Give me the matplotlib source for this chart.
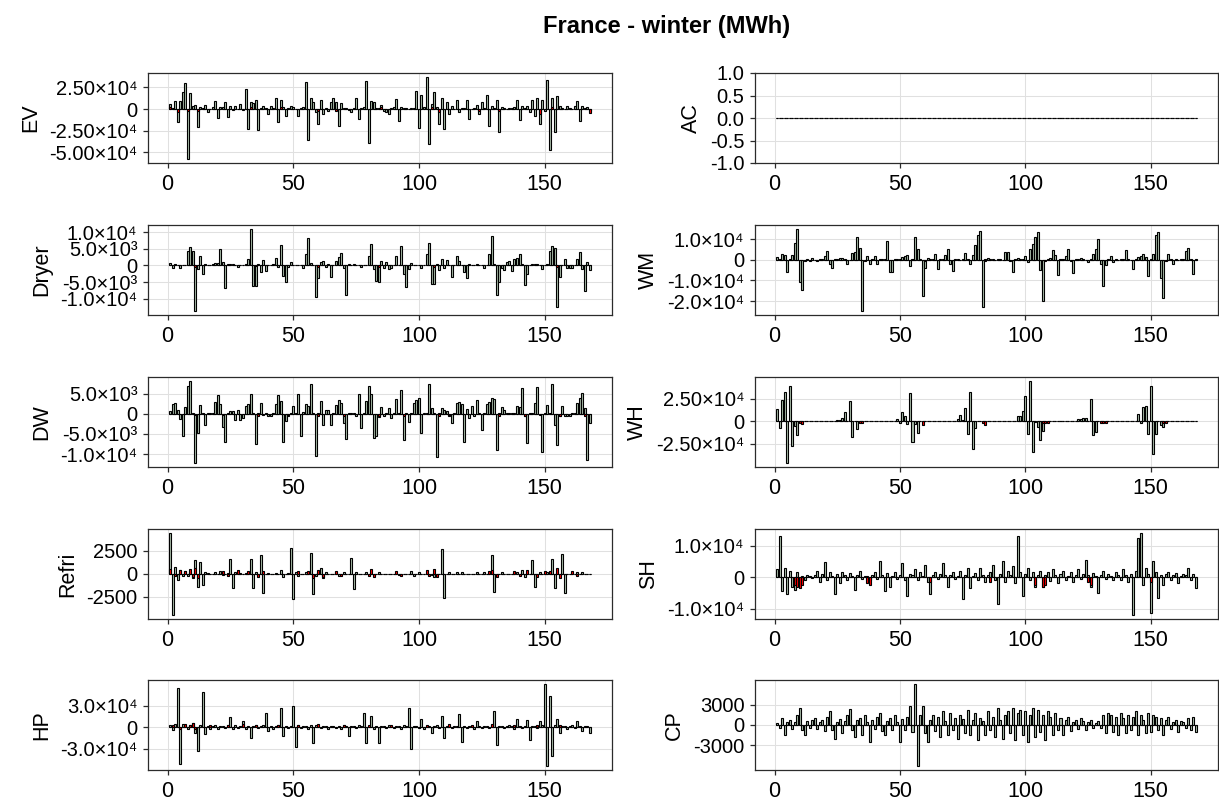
import matplotlib.pyplot as plt
import numpy as np

plt.rcParams['font.family'] = ['Liberation Sans', 'DejaVu Sans']

hours = np.arange(1, 169)

# hourly differences per appliance (MWh), green series
ev = [5800, 1500, 8800, -15400, 8800, 20000, 29600, -57700, 18500, 3800, 4600, -21000,
      2000, 800, 4200, -3800, 600, 2000, 9200, -10400, 2700, 2700, 7700, -9600,
      3000, -1500, 3000, 500, 5800, -1500, 23100, -23100, 7700, 6500, 10800, -24200,
      1500, 3000, 1000, -5800, 3000, 800, 12300, -14600, 10800, 2000, -7700, 1500,
      3000, 2000, 600, -7700, 1000, 2500, 31600, -35400, 12700, 7700, -3000, -17300,
      10800, -5800, 1500, -2500, 8000, 12300, 8500, -20000, 6500, 800, 1000, -1500,
      -3000, 700, 12300, -11500, 1000, 2500, 32700, -39300, 9600, 8500, 1500, 1500,
      5000, -2000, -3000, -5800, 1000, 2500, 11500, -13500, 2000, 1500, 1500, 500,
      1000, 1500, 20400, -22300, 16200, 2000, 37000, -40800, 6000, 20000, 2000, -17300,
      12300, -23100, 7700, -5800, 3000, 600, 10800, -3000, 1500, 1500, 10800, -11500,
      500, 1500, 5000, -5800, 7700, 1500, 16200, -20000, 3000, 1500, 10800, -26200,
      2000, 1000, 500, 700, 1000, 2500, 10800, -12300, 3000, 1000, 3000, -3000,
      10800, -8500, 12300, -17300, 10800, -2000, 33500, -47000, 12300, -27000, 14600, 3000,
      1000, 500, 3000, 1000, 600, 3000, 9600, -13500, 3000, 1000, 2500, -2500]

ac = [0] * 168

dryer = [700, -700, 300, 100, -700, 200, 100, 4400, 5500, 4200, -13600, -1200,
         2800, -2400, 300, 200, 100, 300, 600, 800, 4800, 1100, -6800, 400,
         500, 300, 200, -500, 100, 200, 300, 2000, 10900, -6000, -6000, 300,
         -1900, 1600, -1700, 200, 100, 300, 2300, -400, 6200, -3100, -4800, -500,
         900, 200, 100, 100, 200, -900, 3300, 8200, 700, 200, -9400, -3800,
         1100, 1200, -600, 300, -3300, 200, 1300, 2500, 3800, -800, -8700, 400,
         200, 300, 100, 200, -600, 100, 200, 2800, 6500, -1200, -4600, -5000,
         1300, -700, 900, -1100, -700, 200, 2800, 200, 5800, -2400, -6400, -1200,
         600, 200, 100, 100, -700, 200, 3300, 6800, -5400, -5400, 300, -1400,
         1900, -800, 1500, 200, -3300, 200, 2800, 1300, 200, -1900, -3800, 300,
         200, 100, 300, 100, 200, -700, 200, 3300, 8900, 500, -8700, -4800,
         -800, -1400, 900, 1300, -1700, 2000, 2300, 3500, 500, -5800, -2600, 200,
         300, 400, 500, 200, -1200, 100, 300, 4200, 5800, 5200, -12400, -3400,
         200, 1900, -900, -900, -700, 100, 1900, 4000, -1100, -7500, 900, -1400]

wm = [1600, 300, 2700, 2100, -6000, 200, 2200, 8300, 14900, -10800, -14800, -500,
      600, -400, 1100, -300, -600, 200, 300, 1900, 4100, -2200, -4100, 200,
      300, 1000, 1000, 200, -2200, -300, 3500, 3800, 11000, 5900, -24800, -200,
      1900, -2100, 200, 1900, -1900, 200, 300, 200, 8900, -5700, -5700, 200,
      300, 500, 1400, 1900, 2200, -3000, 300, 11300, 5400, 400, -17800, -3800,
      700, 300, 200, 2700, -4600, 200, 300, 2200, 5400, -2200, -5200, 200,
      300, 100, 200, 3500, 300, -2100, 2200, 7000, 11800, 14200, -22900, 200,
      1100, 300, 200, 100, 200, 300, 100, 3800, 3800, -800, -5700, 200,
      1100, 200, 300, 1700, -1300, 5100, 7500, 11000, 13700, -4900, -20200, -300,
      200, 1100, 4600, 2200, -7600, 200, 300, 1700, 5100, -600, -6500, 200,
      300, 1100, 200, 100, -1000, 200, 3000, 5400, 10200, -2200, -12900, -2500,
      200, 1700, -1300, 200, 100, 200, 300, 4600, 200, 100, -4500, 200,
      1400, 1900, 3000, 1400, -8100, 200, 3000, 11800, 13400, -8600, -18600, -300,
      2700, 200, -2100, 200, 100, 200, 300, 4100, 5700, 200, -7000, 200]

dw = [700, 2300, 2700, 1000, -1300, -5500, 1600, 7000, 8100, 300, -12200, -4900,
      2200, 300, -2700, 200, 100, 300, 3000, 4600, 2300, -3300, -6900, 200,
      600, 600, -1500, 1000, -1500, -1100, 2000, 2300, 4800, 300, -7500, 200,
      2700, -400, 200, -600, -600, 200, 2500, 4600, 3100, -6900, -1900, -500,
      200, 2000, 300, 4800, -5500, 400, 2300, 1800, 7400, 300, -10600, 200,
      3100, -2700, 1000, 1000, -2800, 200, 2200, 3400, 2700, -2300, -6300, 200,
      200, 100, -600, 5000, -3600, 200, 3100, 6900, 5000, -6000, -5500, -700,
      1600, -600, 200, 1400, -1100, 200, 3600, 300, 6000, -6500, 200, -2000,
      100, 2700, 3400, 4000, -4900, 200, 300, 7400, 1400, 300, -10700, 300,
      1500, 1000, 700, -600, -2400, 200, 2600, 3000, 2300, -7100, 1100, -1100,
      2000, -500, 3400, 200, -4100, 200, 2300, 2800, 3900, 3600, -9100, 200,
      1600, 1000, 200, 300, 300, 200, 1800, 1600, 6400, -500, -7300, 300,
      200, 2600, 6600, -400, -9500, 200, 2200, 300, 7500, -2700, -7700, -500,
      2000, -600, -600, -600, 200, 100, 2700, 3800, 5200, 1400, -11400, -2300]

wh = [13800, -8000, 23500, 31900, -46300, 39500, -27900, -5400, -15200, -400, -400, 0,
      100, 0, 0, 0, 0, 100, 0, 0, 0, 0, 200, 300,
      1400, 1800, 3600, 9800, 500, 22800, -18100, 400, -9000, -300, -300, 0,
      0, 0, 100, 0, 0, 0, 0, 0, 0, 100, 200, 300,
      2900, -1800, 9800, 6200, -2900, 30800, -23500, -3600, -12700, 200, -200, 0,
      0, 0, 0, 100, 0, 0, 0, 0, 0, 0, 100, 200,
      2900, 6900, 1100, 14500, -13800, 32600, -30800, -7200, 100, 0, -200, -300,
      0, 0, 0, 0, 100, 0, 0, 0, 0, 0, 100, 300,
      5400, 5400, 11600, 28200, -13800, 44500, -33700, -500, -6500, -21000, -10900, -300,
      0, 0, 100, 0, 0, 0, 0, 0, 0, 100, 0, 200,
      2900, 2900, 3600, 3600, 300, 24300, -15600, -11600, 200, -300, 0, 0,
      0, 0, 0, 100, 0, 0, 0, 0, 0, 0, 100, 300,
      8000, -1800, 16300, 17400, -14500, 39100, -36900, -14500, -200, -4300, -6200, -300,
      0, 0, 100, 0, 0, 0, 0, 0, 0, 0, 0, 0]

refri = [4400, -4500, 700, -700, 400, -300, 300, -300, 200, -500, 1500, -1500,
         1300, -1300, 200, 100, 0, 0, 200, 0, 300, -200, 0, 100,
         1600, -1600, 200, 0, 100, 0, 100, 0, 1600, -1600, 200, 0,
         2000, -2100, 0, 100, 0, 0, 100, 0, 400, -400, 0, 100,
         2800, -2800, 200, -300, 0, 0, 200, 0, 2200, -2200, -300, 200,
         600, -500, 200, 0, 0, 0, 200, -300, 0, 200, 0, 0,
         1700, -1700, 200, 0, 0, 0, 200, 0, 0, -200, 0, 200,
         0, 0, 0, 0, 0, 0, 0, -200, 0, 0, 0, 0,
         300, -300, 0, 200, 0, 0, 0, 0, -200, -400, 0, 0,
         2700, -2700, 0, 200, 0, 0, 200, 0, 200, 0, 0, 0,
         0, 0, 200, 0, 0, 200, 0, 0, 2000, -2000, 0, 0,
         200, 0, 0, 0, 0, 0, 200, 0, 400, -400, 0, 0,
         1500, -1500, 0, 200, 0, 0, 200, 0, 1600, -1600, 200, 0,
         2100, -2100, 0, 0, 0, 0, 200, 0, 200, 0, 0, 0]

sh = [2500, 13000, -4500, 3000, -5500, 2000, -3000, -4000, 1500, -2500, 500, -800,
      600, 300, -300, 800, 2000, -1500, 1000, 4900, -1000, 1500, 500, -5500,
      1000, -2000, 1500, 600, -800, 1200, 400, -4000, 800, 2000, -600, 500,
      300, -1000, 600, 1500, -500, 5000, 800, -4500, 1200, -3000, 500, 1500,
      -600, 800, 4500, -1000, -6000, 1000, 600, 2500, -800, 1500, 500, 4000,
      -1500, -5500, 800, 1500, -500, 1000, 4500, 600, -3000, 800, 1500, -600,
      500, 2000, -7000, 800, 3000, -3500, 500, 1200, -800, 3000, 600, -1500,
      800, 1500, 4000, -800, -8500, 1000, 5000, -1500, 2000, 800, 3500, -2000,
      13000, 1500, -6000, 1000, 3000, -800, 1500, -3000, 600, 2000, -3000, 800,
      1500, -1200, 2500, 600, -2000, 1000, 2000, -800, 500, 1500, -1500, 800,
      2500, -600, 1000, 5500, 600, -3000, 1200, 500, -5000, 800, 2000, -600,
      1000, 500, -800, 1500, 600, -1000, 2500, 800, -1500, 1000, -12000, 2000,
      12500, 14000, -2500, 3000, 1000, -11500, 5000, 1500, -6500, 800, -2500, 1000,
      1500, -800, 600, 1200, -2000, 500, 1000, 800, 3000, -800, 1000, -3500]

hp = [3000, -4000, 5000, 54000, -51000, 4000, 3000, -3000, 2500, 6000, -8000, -33000,
      3000, 49000, -10000, 2000, -2000, 1000, 2500, -3000, 2000, 1000, -1500, 3000,
      14000, -2000, 2500, -1500, 1500, 8000, -3000, 2000, -15000, 1500, 2500, -1500,
      1000, 3500, 20000, -5000, 2000, -2000, 1500, 2500, 26000, -12000, 1500, -1500,
      2000, 30000, -28000, 3000, -1500, 2000, 1000, -2000, 2500, -22000, 3000, 1500,
      -1500, 2000, 1000, -2500, 1500, 2000, -1000, 1500, -2000, 3000, 1000, -13000,
      2000, 1500, -1500, 2500, 1000, 20000, -22000, 2000, 15000, -3000, 1500, -22000,
      2000, 1000, -1500, 2500, 1500, -1000, 2000, 1000, -2000, 3000, 1500, 26000,
      -30000, 2000, 1500, -1500, 12000, -3000, 2000, 1000, -8000, 1500, 2500, -1500,
      15000, -15000, 2000, 1000, -1500, 2000, 1000, 18000, -20000, 1500, -1000, 2000,
      1500, -2000, 8000, 1000, -1500, 2000, 1500, -1000, 2500, 22000, -25000, 1500,
      2000, -1500, 1000, 2500, 1500, -2000, 12000, 2000, -1500, 1500, 10000, -18000,
      2000, 1000, -1500, 8000, 2500, 60000, -54000, 44000, -40000, 3000, 12000, -8000,
      2000, 1000, -2000, 1500, 3000, -1500, 8000, 2000, -5000, 1500, 2000, -8000]

cp = [300, -500, 1000, -1500, 400, 800, -600, 500, 1500, 2500, -800, -1500,
      600, -400, 800, 1000, -600, 400, 700, -900, 1200, 2000, -700, -2000,
      500, 900, -1200, 600, 1500, 2300, -800, -1800, 700, 1000, -1500, 1500,
      500, -2500, 800, -600, 1200, 1800, -900, -1500, 600, 1000, -700, 1500,
      400, -2500, 900, -800, 1200, 2800, -1000, 6000, -6000, 1500, 2800, -1200,
      -2500, 800, 1500, -900, 1200, -1800, 2000, 600, -1500, 1800, -700, 1000,
      -2000, 1500, 900, -1200, 2200, -1500, 700, 1800, -2200, 1000, 600, -1500,
      2000, -800, 1200, -1800, 2500, 800, -2000, 1500, 2000, -1200, 2500, -2200,
      1800, 2200, -1500, 2000, -2500, 1500, 2500, -1800, 2200, -1000, 1500, -2200,
      2000, 1200, -1500, 1800, -800, 1000, -1500, 700, 1200, -900, 500, 800,
      -600, 1000, 600, -800, 400, 700, -500, 300, 600, -400, 1500, -1200,
      1800, 1500, -1000, 1200, -1500, 1800, 1000, -1200, 1500, -800, 1200, 2000,
      -1500, 1500, 800, -1200, 1800, -1000, 1500, 1200, -800, 1000, -1500, 800,
      1200, -600, 500, 800, -1000, 600, 400, -500, 1000, -800, 1200, -1000]

# second (red) series, only the non-zero hours
ev_red = {1: 2500, 4: -3800, 8: -2000, 12: -2500, 33: 2000, 45: 2500, 60: -2500, 67: -2500,
          85: 2000, 105: 2500, 108: -3500, 124: -2000, 132: -2500, 148: -5800, 153: 2000, 168: -5000}
dryer_red = {11: -500, 35: -300, 60: -500, 84: -400, 106: -500, 155: -500}
wm_red = {36: -500, 60: -500, 84: -400, 108: -500, 156: -500}
dw_red = {11: -400, 22: -400, 36: -500, 48: -400, 60: -500, 70: -500, 84: -600, 94: -500,
          108: -600, 112: -400, 132: -500, 142: -500, 156: -600, 166: -500}
wh_red = {10: -2500, 11: -3500, 34: -2000, 35: -1500, 59: -4000, 83: -2500, 84: -4500,
          107: -2000, 108: -2500, 109: -2000, 130: -2000, 131: -2500, 132: -2500, 155: -1500, 156: -2000}
refri_red = {1: 500, 3: -300, 5: 400, 7: 300, 9: 500, 10: -400, 11: 600, 12: -500, 22: 300, 24: -300,
             28: 400, 32: 300, 36: -400, 38: 300, 52: 300, 56: 300, 58: -500, 60: 400, 62: -400,
             67: 300, 69: -300, 80: -300, 81: 500, 82: -400, 91: 300, 93: -300, 103: 400, 104: -300,
             106: 500, 107: -400, 128: 300, 129: 400, 131: -400, 138: 300, 140: -300, 143: 400,
             147: -400, 150: 300, 152: 300, 155: 600, 156: -500, 161: 300, 163: -300}
sh_red = {8: -2500, 9: -3000, 10: -3500, 11: -2500, 37: -2000, 38: -2500, 62: -1500, 86: -1500,
          104: -2500, 107: -3000, 108: -2500, 125: -1500, 126: -2500, 150: -1500}
hp_red = {2: 3000, 5: -3000, 7: 4000, 9: 3500, 10: 6000, 11: -3000, 17: 3000, 24: 2500, 30: 4000,
          35: 3000, 44: 3000, 52: 3500, 60: 4000, 70: 3000, 80: 3000, 89: 3500, 103: 3000,
          112: 4000, 121: 3000, 129: 4000, 138: 3000, 147: 3500, 156: 3000}

# y ticks and their labels
ev_ticks = [-5e4, -2.5e4, 0, 2.5e4]
ev_labels = ['-5.00×10⁴', '-2.50×10⁴', '0', '2.50×10⁴']
ac_ticks = [-1.0, -0.5, 0.0, 0.5, 1.0]
ac_labels = ['-1.0', '-0.5', '0.0', '0.5', '1.0']
dryer_ticks = [-1e4, -5e3, 0, 5e3, 1e4]
dryer_labels = ['-1.0×10⁴', '-5.0×10³', '0', '5.0×10³', '1.0×10⁴']
wm_ticks = [-2e4, -1e4, 0, 1e4]
wm_labels = ['-2.0×10⁴', '-1.0×10⁴', '0', '1.0×10⁴']
dw_ticks = [-1e4, -5e3, 0, 5e3]
dw_labels = ['-1.0×10⁴', '-5.0×10³', '0', '5.0×10³']
wh_ticks = [-2.5e4, 0, 2.5e4]
wh_labels = ['-2.50×10⁴', '0', '2.50×10⁴']
refri_ticks = [-2500, 0, 2500]
refri_labels = ['-2500', '0', '2500']
sh_ticks = [-1e4, 0, 1e4]
sh_labels = ['-1.0×10⁴', '0', '1.0×10⁴']
hp_ticks = [-3e4, 0, 3e4]
hp_labels = ['-3.0×10⁴', '0', '3.0×10⁴']
cp_ticks = [-3000, 0, 3000]
cp_labels = ['-3000', '0', '3000']


def expand(sparse):
    vals = np.zeros(len(hours))
    for h, v in sparse.items():
        vals[h - 1] = v
    return vals


panels = [
    ('EV', ev, ev_red, ev_ticks, ev_labels, 0, 0),
    ('AC', ac, {}, ac_ticks, ac_labels, 1, 0),
    ('Dryer', dryer, dryer_red, dryer_ticks, dryer_labels, 0, 1),
    ('WM', wm, wm_red, wm_ticks, wm_labels, 1, 1),
    ('DW', dw, dw_red, dw_ticks, dw_labels, 0, 2),
    ('WH', wh, wh_red, wh_ticks, wh_labels, 1, 2),
    ('Refri', refri, refri_red, refri_ticks, refri_labels, 0, 3),
    ('SH', sh, sh_red, sh_ticks, sh_labels, 1, 3),
    ('HP', hp, hp_red, hp_ticks, hp_labels, 0, 4),
    ('CP', cp, {}, cp_ticks, cp_labels, 1, 4),
]

W, H = 1219, 807
col_left = [148, 755]
col_width = [464, 463]
row_top = [73, 225, 377, 529, 680]
ax_h = 90

GREEN = '#abbfab'
SPINE = '#2b2b2b'

fig = plt.figure(figsize=(W / 100, H / 100), dpi=100)
fig.text(667 / W, 1 - 27 / H, 'France - winter (MWh)', ha='center', va='center',
         fontsize=17, fontweight='bold')

for name, green, red, ticks, labels, col, row in panels:
    g = np.asarray(green, dtype=float)
    assert len(g) == 168, name
    r = expand(red)
    ax = fig.add_axes([col_left[col] / W, 1 - (row_top[row] + ax_h) / H,
                       col_width[col] / W, ax_h / H])
    ax.bar(hours, g, width=0.8, color=GREEN, edgecolor='black', linewidth=0.8, zorder=2)
    ax.bar(hours, r, width=0.8, color='red', edgecolor='black', linewidth=0.8, zorder=3)

    lo = min(0, g.min(), r.min())
    hi = max(0, g.max(), r.max())
    if hi - lo == 0:
        ax.set_ylim(-1, 1)
    else:
        pad = 0.05 * (hi - lo)
        ax.set_ylim(lo - pad, hi + pad)
    span = 168.4 - 0.6
    ax.set_xlim(0.6 - 0.05 * span, 168.4 + 0.05 * span)

    ax.set_xticks([0, 50, 100, 150])
    ax.set_yticks(ticks)
    ax.set_yticklabels(labels)
    ax.set_ylabel(name, fontsize=15.5, labelpad=6)

    ax.set_axisbelow(True)
    ax.grid(True, color='#e0e0e0', linewidth=0.75)
    for s in ax.spines.values():
        s.set_color(SPINE)
        s.set_linewidth(0.9)
    ax.tick_params(axis='x', direction='out', length=3.6, width=0.9, color=SPINE,
                   labelsize=15.5, pad=4)
    ax.tick_params(axis='y', direction='out', length=3.6, width=0.9, color=SPINE,
                   labelsize=14.5, pad=4)

fig.savefig('out.png', dpi=100)
